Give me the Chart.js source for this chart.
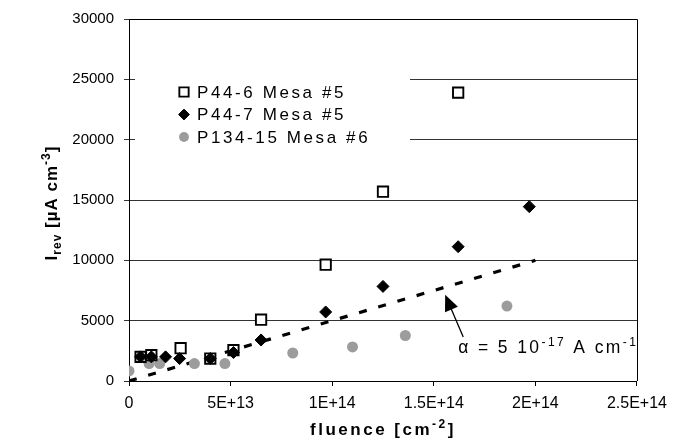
<!DOCTYPE html>
<html>
<head>
<meta charset="utf-8">
<script src="https://cdn.jsdelivr.net/npm/chart.js@4.4.1/dist/chart.umd.min.js"></script>
<style>
  html, body { margin: 0; padding: 0; background: #fff; }
  #wrap { width: 675px; height: 444px; }
</style>
</head>
<body>
<div id="wrap"><canvas id="myChart" width="675" height="444"></canvas></div>
<script>
// P44-6 Mesa #5 (open squares)
const p446Fluence = [0.57e13, 1.1e13, 2.54e13, 4.0e13, 5.14e13, 6.5e13, 0.968e14, 1.25e14, 1.62e14];
const p446Irev = [2000, 2140, 2720, 1860, 2560, 5080, 9640, 15690, 23900];

// P44-7 Mesa #5 (black diamonds)
const p447Fluence = [0.57e13, 1.1e13, 1.8e13, 2.49e13, 4.0e13, 5.14e13, 6.5e13, 0.968e14, 1.25e14, 1.62e14, 1.97e14];
const p447Irev = [2000, 2000, 2000, 1860, 1860, 2360, 3400, 5720, 7840, 11130, 14450];

// P134-15 Mesa #6 (grey dots)
const p134Fluence = [0, 0.99e13, 1.51e13, 3.22e13, 4.72e13, 0.806e14, 1.1e14, 1.36e14, 1.86e14];
const p134Irev = [830, 1440, 1440, 1440, 1440, 2320, 2820, 3770, 6210];

// alpha = 5e-17 A/cm line
const alphaFluence = [0, 2e14];
const alphaIrev = [0, 10000];

const xTicks = [0, 5e13, 1e14, 1.5e14, 2e14, 2.5e14];
const yTicks = [0, 5000, 10000, 15000, 20000, 25000, 30000];

const FONT = 'Arial, "Liberation Sans", sans-serif';

function pts(xs, ys) {
    return xs.map((x, i) => ({ x: x, y: ys[i] }));
}

// draws a row of text pieces (normal / sub / sup)
function richText(ctx, parts, x, y, spacing, align) {
    ctx.letterSpacing = spacing + 'px';
    let w = 0;
    parts.forEach(p => {
        ctx.font = (p.bold ? 'bold ' : '') + p.size + 'px ' + FONT;
        p.w = ctx.measureText(p.t).width;
        w += p.w;
    });
    let cx = align === 'center' ? x - w / 2 : x;
    parts.forEach(p => {
        ctx.font = (p.bold ? 'bold ' : '') + p.size + 'px ' + FONT;
        ctx.fillText(p.t, cx, y + (p.dy || 0));
        cx += p.w;
    });
    ctx.letterSpacing = '0px';
}

const extras = {
    id: 'extras',
    afterDraw(chart) {
        const ctx = chart.ctx;
        const a = chart.chartArea;
        const xs = chart.scales.x, ys = chart.scales.y;
        ctx.save();

        // frame
        ctx.strokeStyle = '#000';
        ctx.lineWidth = 1;
        ctx.beginPath();
        ctx.moveTo(a.left, Math.round(a.top) + 0.5);
        ctx.lineTo(Math.round(a.right) + 0.5, Math.round(a.top) + 0.5);
        ctx.lineTo(Math.round(a.right) + 0.5, a.bottom);
        ctx.stroke();

        // legend box
        ctx.fillStyle = '#fff';
        ctx.fillRect(a.left + 6, 55, 410 - a.left - 6, 115);
        const items = chart.data.datasets.filter(d => d.label);
        items.forEach((d, i) => {
            const y = 92 + i * 22.5;
            ctx.fillStyle = d.pointBackgroundColor;
            ctx.strokeStyle = d.pointBorderColor;
            ctx.lineWidth = d.pointBorderWidth;
            Chart.helpers.drawPoint(ctx, { pointStyle: d.pointStyle, radius: d.pointRadius * 0.9, rotation: 0, borderWidth: d.pointBorderWidth }, 184, y);
            ctx.fillStyle = '#000';
            ctx.textBaseline = 'middle';
            ctx.textAlign = 'left';
            richText(ctx, [{ t: d.label, size: 17 }], 197, y + 1, 2.6, 'left');
        });

        // axis titles
        ctx.fillStyle = '#000';
        ctx.textBaseline = 'alphabetic';
        ctx.textAlign = 'left';
        richText(ctx, [
            { t: 'fluence [cm', size: 17, bold: true },
            { t: '-2', size: 12, bold: true, dy: -7 },
            { t: ']', size: 17, bold: true }
        ], (a.left + a.right) / 2, 435, 2.5, 'center');

        ctx.save();
        ctx.translate(57, (a.top + a.bottom) / 2 + 3);
        ctx.rotate(-Math.PI / 2);
        richText(ctx, [
            { t: 'I', size: 17, bold: true },
            { t: 'rev', size: 12, bold: true, dy: 4 },
            { t: ' [\u00b5A cm', size: 17, bold: true },
            { t: '-3', size: 12, bold: true, dy: -7 },
            { t: ']', size: 17, bold: true }
        ], 0, 0, 1, 'center');
        ctx.restore();

        // alpha annotation with arrow
        const tipX = xs.getPixelForValue(1.556e14), tipY = ys.getPixelForValue(7150);
        const tailX = xs.getPixelForValue(1.645e14), tailY = ys.getPixelForValue(3650);
        const ang = Math.atan2(tipY - tailY, tipX - tailX);
        ctx.strokeStyle = '#000';
        ctx.lineWidth = 1.3;
        ctx.beginPath();
        ctx.moveTo(tailX, tailY);
        ctx.lineTo(tipX - 10 * Math.cos(ang), tipY - 10 * Math.sin(ang));
        ctx.stroke();
        ctx.fillStyle = '#000';
        ctx.beginPath();
        ctx.moveTo(tipX, tipY);
        ctx.lineTo(tipX - 16 * Math.cos(ang) + 7 * Math.sin(ang), tipY - 16 * Math.sin(ang) - 7 * Math.cos(ang));
        ctx.lineTo(tipX - 16 * Math.cos(ang) - 7 * Math.sin(ang), tipY - 16 * Math.sin(ang) + 7 * Math.cos(ang));
        ctx.closePath();
        ctx.fill();

        richText(ctx, [
            { t: '\u03b1 = 5 10', size: 17.5 },
            { t: '-17', size: 12, dy: -7 },
            { t: ' A cm', size: 17.5 },
            { t: '-1', size: 12, dy: -7 }
        ], xs.getPixelForValue(1.62e14), ys.getPixelForValue(2300), 2.4, 'left');

        ctx.restore();
    }
};

const ctx = document.getElementById('myChart');

new Chart(ctx, {
    type: 'scatter',
    data: {
        datasets: [{
            label: 'P44-6 Mesa #5',
            data: pts(p446Fluence, p446Irev),
            pointStyle: 'rect',
            pointRadius: 7.3,
            pointBackgroundColor: '#fff',
            pointBorderColor: '#000',
            pointBorderWidth: 1.9,
            order: 1
        }, {
            label: 'P44-7 Mesa #5',
            data: pts(p447Fluence, p447Irev),
            pointStyle: 'rectRot',
            pointRadius: 6,
            pointBackgroundColor: '#000',
            pointBorderColor: '#000',
            pointBorderWidth: 1,
            order: 0
        }, {
            label: 'P134-15 Mesa #6',
            data: pts(p134Fluence, p134Irev),
            pointStyle: 'circle',
            pointRadius: 5.5,
            pointBackgroundColor: '#9c9c9c',
            pointBorderColor: '#9c9c9c',
            pointBorderWidth: 0,
            order: 2
        }, {
            label: '',
            data: pts(alphaFluence, alphaIrev),
            showLine: true,
            borderColor: '#000',
            borderWidth: 3.2,
            borderDash: [8, 12],
            pointRadius: 0,
            order: 3
        }]
    },
    options: {
        responsive: false,
        animation: false,
        events: [],
        layout: { padding: { top: 14, right: 34, left: 0, bottom: 0 } },
        plugins: {
            legend: { display: false },
            tooltip: { enabled: false }
        },
        scales: {
            x: {
                type: 'linear',
                min: 0,
                max: 2.5e14,
                afterBuildTicks: s => { s.ticks = xTicks.map(v => ({ value: v })); },
                afterFit: s => { s.height = 63; },
                ticks: {
                    autoSkip: false,
                    maxRotation: 0,
                    padding: 8,
                    color: '#000',
                    font: { family: FONT, size: 16 },
                    callback: v => v === 0 ? '0' : v.toExponential().replace('e', 'E')
                },
                grid: { drawOnChartArea: false, tickLength: 5, color: '#000' },
                border: { color: '#000', width: 1 }
            },
            y: {
                min: 0,
                max: 30000,
                afterBuildTicks: s => { s.ticks = yTicks.map(v => ({ value: v })); },
                afterFit: s => { s.width = 129; },
                ticks: {
                    padding: 10,
                    color: '#000',
                    font: { family: FONT, size: 15 },
                    callback: v => String(v)
                },
                grid: { tickLength: 5, color: '#333' },
                border: { color: '#000', width: 1 }
            }
        }
    },
    plugins: [extras]
});
</script>
</body>
</html>
